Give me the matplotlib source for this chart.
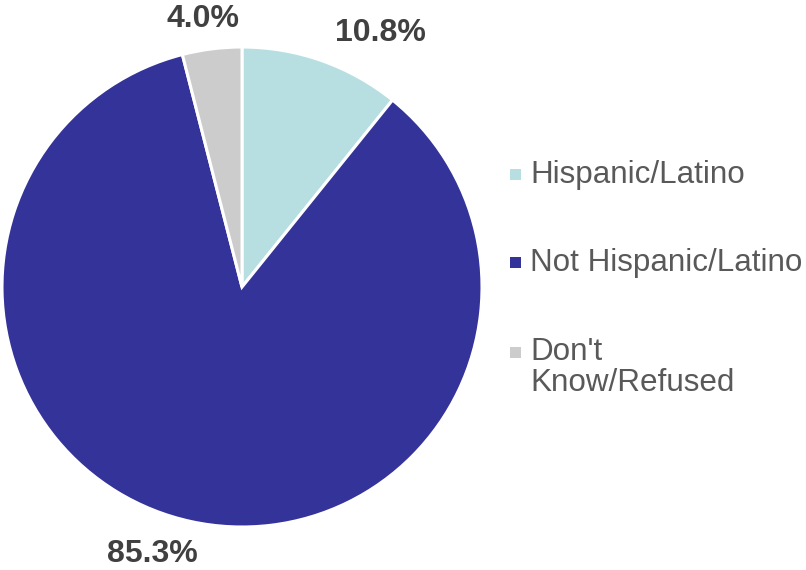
import matplotlib.pyplot as plt
from matplotlib.patches import Rectangle

# ethnicity breakdown of respondents
categories = ["Hispanic/Latino", "Not Hispanic/Latino", "Don't\nKnow/Refused"]
shares = [10.8, 85.3, 4.0]
colors = ["#B7DFE2", "#333399", "#CCCCCC"]

# where each percentage sits, in units of the pie radius
label_xy = [(0.575, 1.060), (-0.375, -1.112), (-0.1625, 1.117)]

plt.rcParams['font.family'] = ['Liberation Sans', 'DejaVu Sans']

W, H = 806, 570
fig = plt.figure(figsize=(W / 100, H / 100), dpi=100)
cx, cy, r = 242, 287, 240
ax = fig.add_axes([(cx - r) / W, (H - cy - r) / H, 2 * r / W, 2 * r / H])

wedges, _ = ax.pie(shares, colors=colors, startangle=90, counterclock=False,
                   radius=1.0, wedgeprops=dict(edgecolor="white", linewidth=2.2))
ax.set_xlim(-1, 1)
ax.set_ylim(-1, 1)
ax.set_aspect("equal")
ax.axis("off")

for v, (x, y) in zip(shares, label_xy):
    ax.text(x, y, f"{v:.1f}%", ha="center", va="center", fontsize=23,
            fontweight="bold", color="#404040", clip_on=False)

# legend drawn by hand so the marker lines up with the first line of text
marker_y = [174, 262, 352]
for name, c, my in zip(categories, colors, marker_y):
    fig.patches.append(Rectangle((510 / W, (H - my - 5.5) / H), 11 / W, 11 / H,
                                 transform=fig.transFigure, facecolor=c,
                                 edgecolor="none"))
    fig.text(530 / W, (H - my + 14.5) / H, name, ha="left", va="top",
             fontsize=22.6, color="#595959", linespacing=1.02)

fig.savefig("out.png", dpi=100)
